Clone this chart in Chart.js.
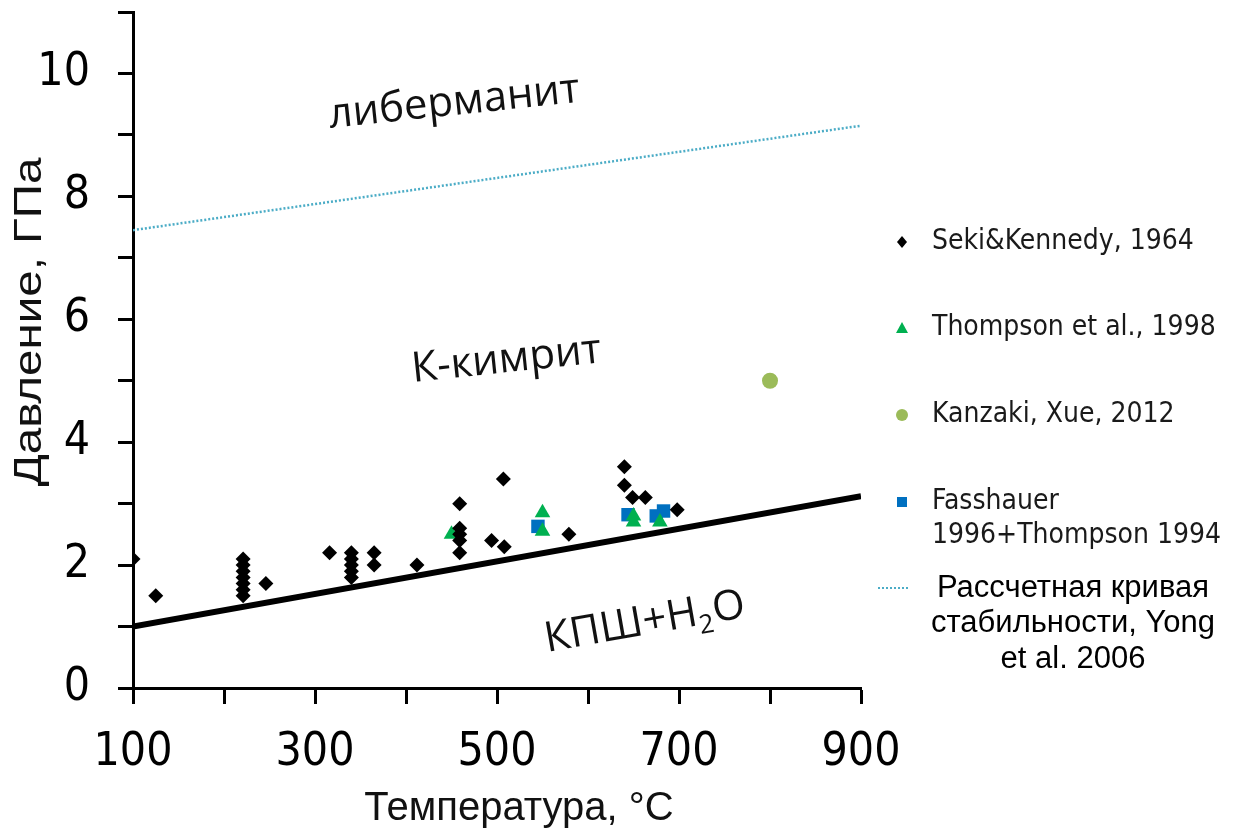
<!DOCTYPE html>
<html>
<head>
<meta charset="utf-8">
<script src="https://cdn.jsdelivr.net/npm/chart.js@4"></script>
<style>
  body { margin: 0; background: #fff; }
  #wrap { width: 1243px; height: 832px; }
</style>
</head>
<body>
<div id="wrap"><canvas id="chart" width="1243" height="832"></canvas></div>
<script>
// Data
const sekiT = [100, 125, 221, 221, 221, 221, 221, 221, 221, 246, 316, 340, 340, 340, 340, 340, 365, 365, 412,
               459, 459, 459, 459, 459, 494, 507, 508, 579, 640, 640, 649, 663, 698];
const sekiP = [2.1, 1.5, 2.1, 2.0, 1.9, 1.8, 1.7, 1.6, 1.5, 1.7, 2.2, 2.2, 2.1, 2.0, 1.9, 1.8, 2.2, 2.0, 2.0,
               3.0, 2.6, 2.5, 2.4, 2.2, 2.4, 3.4, 2.3, 2.5, 3.6, 3.3, 3.1, 3.1, 2.9];
const thompsonT = [450, 550, 550, 650, 650, 679];
const thompsonP = [2.5, 2.85, 2.55, 2.8, 2.7, 2.7];
const kanzakiT = [800];
const kanzakiP = [5.0];
const fassT = [545, 644, 675, 683];
const fassP = [2.63, 2.82, 2.8, 2.88];
// boundary K-cymrite / KAlSi3O8 + H2O
const boundT = [100, 900];
const boundP = [1.0, 3.12];
// calculated stability curve (Yong et al. 2006)
const yongT = [100, 900];
const yongP = [7.45, 9.15];

const xTicks = [100, 300, 500, 700, 900];
const yTicks = [0, 2, 4, 6, 8, 10];

function pts(xs, ys) {
    return xs.map((x, i) => ({ x: x, y: ys[i] }));
}

const tickFont = "'DejaVu Sans Condensed', 'DejaVu Sans', sans-serif";

// Text labels, axis titles and legend drawn on top
const overlay = {
    id: 'overlay',
    afterDraw(chart) {
        const ctx = chart.ctx;
        ctx.save();
        ctx.fillStyle = '#111';

        // field labels
        function tilted(text, x, y, deg) {
            ctx.save();
            ctx.translate(x, y);
            ctx.rotate(deg * Math.PI / 180);
            ctx.font = "42px 'Open Sans'";
            ctx.textAlign = 'left';
            ctx.textBaseline = 'alphabetic';
            ctx.fillText(text, 0, 0);
            ctx.restore();
        }
        tilted('либерманит', 330, 128, -6);
        tilted('К-кимрит', 413, 382, -6);

        ctx.save();
        ctx.translate(547, 652);
        ctx.rotate(-10 * Math.PI / 180);
        ctx.font = "42px 'Open Sans'";
        ctx.textBaseline = 'alphabetic';
        let w = ctx.measureText('КПШ+H').width;
        ctx.fillText('КПШ+H', 0, 0);
        ctx.font = "26px 'Open Sans'";
        ctx.fillText('2', w, 9);
        let w2 = ctx.measureText('2').width;
        ctx.font = "42px 'Open Sans'";
        ctx.fillText('O', w + w2 + 1, 0);
        ctx.restore();

        // axis titles
        ctx.save();
        ctx.translate(31, 322);
        ctx.rotate(-Math.PI / 2);
        ctx.scale(1.25, 1);
        ctx.font = "38px 'Liberation Sans'";
        ctx.textAlign = 'center';
        ctx.textBaseline = 'middle';
        ctx.fillText('Давление, ГПа', 0, 0);
        ctx.restore();

        ctx.font = "40px 'Liberation Sans'";
        ctx.textAlign = 'center';
        ctx.textBaseline = 'alphabetic';
        ctx.fillText('Температура, °C', 519, 820);

        // legend
        const lx = 902;
        ctx.fillStyle = '#000';
        ctx.beginPath();
        ctx.moveTo(lx, 236); ctx.lineTo(lx + 5, 242); ctx.lineTo(lx, 248); ctx.lineTo(lx - 5, 242);
        ctx.closePath(); ctx.fill();

        ctx.fillStyle = '#00B050';
        ctx.beginPath();
        ctx.moveTo(lx, 322); ctx.lineTo(lx + 6, 333); ctx.lineTo(lx - 6, 333);
        ctx.closePath(); ctx.fill();

        ctx.fillStyle = '#9BBB59';
        ctx.beginPath();
        ctx.arc(lx, 415, 6, 0, Math.PI * 2);
        ctx.fill();

        ctx.fillStyle = '#0070C0';
        ctx.fillRect(lx - 5, 497, 10, 10);

        ctx.strokeStyle = '#4BACC6';
        ctx.lineWidth = 2;
        ctx.setLineDash([2, 2]);
        ctx.beginPath();
        ctx.moveTo(878, 588); ctx.lineTo(908, 588);
        ctx.stroke();
        ctx.setLineDash([]);

        ctx.fillStyle = '#1a1a1a';
        ctx.font = "28px " + tickFont;
        ctx.textAlign = 'left';
        ctx.textBaseline = 'middle';
        ctx.fillText('Seki&Kennedy, 1964', 932, 242);
        ctx.fillText('Thompson et al., 1998', 932, 328);
        ctx.fillText('Kanzaki, Xue, 2012', 932, 415);
        ctx.fillText('Fasshauer', 932, 502);
        ctx.fillText('1996+Thompson 1994', 932, 536);

        ctx.fillStyle = '#000';
        ctx.font = "31px 'Liberation Sans'";
        ctx.textAlign = 'center';
        ctx.fillText('Рассчетная кривая', 1073, 588);
        ctx.fillText('стабильности, Yong', 1073, 623);
        ctx.fillText('et al. 2006', 1073, 659);

        ctx.restore();
    }
};

new Chart(document.getElementById('chart'), {
    type: 'scatter',
    data: {
        datasets: [
            {
                label: 'Seki&Kennedy, 1964',
                data: pts(sekiT, sekiP),
                pointStyle: 'rectRot',
                pointRadius: 7.5,
                backgroundColor: '#000',
                borderColor: '#000',
                borderWidth: 0
            },
            {
                label: 'Thompson et al., 1998',
                data: pts(thompsonT, thompsonP),
                pointStyle: 'triangle',
                pointRadius: 9,
                backgroundColor: '#00B050',
                borderColor: '#00B050',
                borderWidth: 0
            },
            {
                label: 'Kanzaki, Xue, 2012',
                data: pts(kanzakiT, kanzakiP),
                pointStyle: 'circle',
                pointRadius: 8,
                backgroundColor: '#9BBB59',
                borderColor: '#9BBB59',
                borderWidth: 0
            },
            {
                label: 'Fasshauer 1996+Thompson 1994',
                data: pts(fassT, fassP),
                pointStyle: 'rect',
                pointRadius: 9.5,
                backgroundColor: '#0070C0',
                borderColor: '#0070C0',
                borderWidth: 0
            },
            {
                label: 'boundary',
                data: pts(boundT, boundP),
                showLine: true,
                pointRadius: 0,
                borderColor: '#000',
                borderWidth: 6
            },
            {
                label: 'Рассчетная кривая стабильности, Yong et al. 2006',
                data: pts(yongT, yongP),
                showLine: true,
                pointRadius: 0,
                borderColor: '#4BACC6',
                borderWidth: 2.5,
                borderDash: [2, 2]
            }
        ]
    },
    options: {
        responsive: false,
        animation: false,
        layout: { padding: { top: 12, right: 382, left: 0, bottom: 0 } },
        plugins: {
            legend: { display: false },
            tooltip: { enabled: false }
        },
        scales: {
            x: {
                type: 'linear',
                min: 100,
                max: 900,
                afterFit(scale) { scale.height = 144; scale.paddingLeft = 0; scale.paddingRight = 0; },
                border: { display: true, color: '#000', width: 3 },
                grid: { drawOnChartArea: false, drawTicks: true, tickLength: 16, tickWidth: 3, tickColor: '#000' },
                ticks: {
                    stepSize: 100,
                    padding: 21,
                    color: '#000',
                    maxRotation: 0,
                    autoSkip: false,
                    font: { family: tickFont, size: 46 },
                    callback: v => xTicks.includes(v) ? String(v) : ''
                }
            },
            y: {
                type: 'linear',
                min: 0,
                max: 11,
                afterFit(scale) { scale.width = 133; scale.paddingTop = 0; scale.paddingBottom = 0; },
                border: { display: true, color: '#000', width: 3 },
                grid: { drawOnChartArea: false, drawTicks: true, tickLength: 15, tickWidth: 3, tickColor: '#000' },
                ticks: {
                    stepSize: 1,
                    padding: 28,
                    color: '#000',
                    autoSkip: false,
                    font: { family: tickFont, size: 46 },
                    callback: v => yTicks.includes(v) ? String(v) : ''
                }
            }
        }
    },
    plugins: [overlay]
});
</script>
</body>
</html>
